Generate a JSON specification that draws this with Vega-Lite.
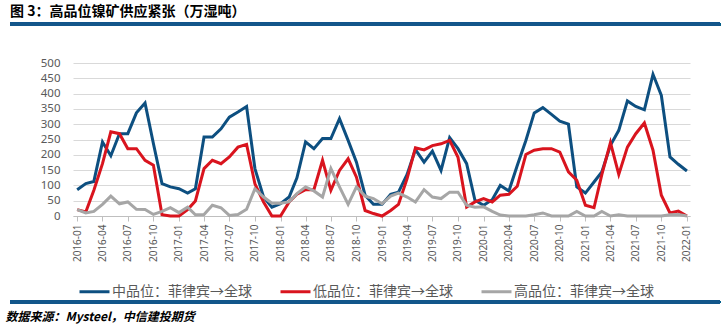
{
  "$schema": "https://vega.github.io/schema/vega-lite/v6.json",
  "autosize": {"type": "none"},
  "width": 617,
  "height": 153,
  "padding": {"left": 73, "top": 63, "right": 35, "bottom": 114},
  "background": "white",
  "config": {
    "view": {"stroke": null},
    "font": "Noto Sans CJK SC",
    "axisY": {"tickCount": 10, "labelOverlap": false, "labelFlush": false, "domain": false, "ticks": false, "labelPadding": 13, "labelFont": "Noto Sans", "labelFontSize": 11.5, "labelColor": "#595959", "gridColor": "#d9d9d9", "gridWidth": 1}
  },
  "title": {
    "text": "图 3：高品位镍矿供应紧张（万湿吨）",
    "anchor": "start",
    "frame": "group",
    "dx": -63,
    "offset": 4,
    "font": "Noto Sans CJK SC",
    "fontSize": 14,
    "fontWeight": "bold",
    "color": "#000000"
  },
  "data": {
    "values": [
      {"d":"2016-01-01","mid":86,"low":21,"high":21},
      {"d":"2016-02-01","mid":106,"low":13,"high":10},
      {"d":"2016-03-01","mid":113,"low":84,"high":15},
      {"d":"2016-04-01","mid":242,"low":171,"high":38},
      {"d":"2016-05-01","mid":197,"low":275,"high":65},
      {"d":"2016-06-01","mid":269,"low":269,"high":40},
      {"d":"2016-07-01","mid":269,"low":220,"high":46},
      {"d":"2016-08-01","mid":337,"low":220,"high":22},
      {"d":"2016-09-01","mid":369,"low":182,"high":21},
      {"d":"2016-10-01","mid":237,"low":166,"high":5},
      {"d":"2016-11-01","mid":106,"low":4,"high":15},
      {"d":"2016-12-01","mid":95,"low":0,"high":27},
      {"d":"2017-01-01","mid":89,"low":0,"high":11},
      {"d":"2017-02-01","mid":75,"low":21,"high":29},
      {"d":"2017-03-01","mid":89,"low":49,"high":4},
      {"d":"2017-04-01","mid":258,"low":155,"high":5},
      {"d":"2017-05-01","mid":258,"low":182,"high":35},
      {"d":"2017-06-01","mid":285,"low":171,"high":27},
      {"d":"2017-07-01","mid":323,"low":193,"high":2},
      {"d":"2017-08-01","mid":340,"low":225,"high":5},
      {"d":"2017-09-01","mid":358,"low":234,"high":22},
      {"d":"2017-10-01","mid":155,"low":105,"high":89},
      {"d":"2017-11-01","mid":62,"low":46,"high":62},
      {"d":"2017-12-01","mid":29,"low":0,"high":42},
      {"d":"2018-01-01","mid":40,"low":0,"high":42},
      {"d":"2018-02-01","mid":62,"low":46,"high":46},
      {"d":"2018-03-01","mid":125,"low":71,"high":73},
      {"d":"2018-04-01","mid":242,"low":86,"high":95},
      {"d":"2018-05-01","mid":220,"low":86,"high":82},
      {"d":"2018-06-01","mid":253,"low":182,"high":62},
      {"d":"2018-07-01","mid":253,"low":84,"high":155},
      {"d":"2018-08-01","mid":318,"low":149,"high":95},
      {"d":"2018-09-01","mid":247,"low":187,"high":38},
      {"d":"2018-10-01","mid":176,"low":127,"high":95},
      {"d":"2018-11-01","mid":68,"low":18,"high":65},
      {"d":"2018-12-01","mid":38,"low":8,"high":57},
      {"d":"2019-01-01","mid":38,"low":0,"high":40},
      {"d":"2019-02-01","mid":71,"low":18,"high":65},
      {"d":"2019-03-01","mid":78,"low":38,"high":75},
      {"d":"2019-04-01","mid":136,"low":122,"high":62},
      {"d":"2019-05-01","mid":217,"low":223,"high":46},
      {"d":"2019-06-01","mid":176,"low":216,"high":86},
      {"d":"2019-07-01","mid":212,"low":230,"high":62},
      {"d":"2019-08-01","mid":149,"low":236,"high":57},
      {"d":"2019-09-01","mid":256,"low":247,"high":78},
      {"d":"2019-10-01","mid":220,"low":192,"high":78},
      {"d":"2019-11-01","mid":171,"low":29,"high":35},
      {"d":"2019-12-01","mid":51,"low":46,"high":29},
      {"d":"2020-01-01","mid":35,"low":57,"high":30},
      {"d":"2020-02-01","mid":53,"low":46,"high":15},
      {"d":"2020-03-01","mid":100,"low":68,"high":3},
      {"d":"2020-04-01","mid":82,"low":71,"high":0},
      {"d":"2020-05-01","mid":165,"low":97,"high":0},
      {"d":"2020-06-01","mid":247,"low":201,"high":0},
      {"d":"2020-07-01","mid":337,"low":215,"high":4},
      {"d":"2020-08-01","mid":354,"low":220,"high":10},
      {"d":"2020-09-01","mid":332,"low":220,"high":0},
      {"d":"2020-10-01","mid":310,"low":209,"high":0},
      {"d":"2020-11-01","mid":300,"low":144,"high":0},
      {"d":"2020-12-01","mid":95,"low":117,"high":15},
      {"d":"2021-01-01","mid":75,"low":35,"high":0},
      {"d":"2021-02-01","mid":111,"low":27,"high":0},
      {"d":"2021-03-01","mid":144,"low":135,"high":15},
      {"d":"2021-04-01","mid":231,"low":240,"high":0},
      {"d":"2021-05-01","mid":280,"low":136,"high":4},
      {"d":"2021-06-01","mid":376,"low":225,"high":0},
      {"d":"2021-07-01","mid":358,"low":269,"high":0},
      {"d":"2021-08-01","mid":347,"low":304,"high":0},
      {"d":"2021-09-01","mid":463,"low":215,"high":0},
      {"d":"2021-10-01","mid":394,"low":68,"high":0},
      {"d":"2021-11-01","mid":193,"low":10,"high":4},
      {"d":"2021-12-01","mid":169,"low":16,"high":5},
      {"d":"2022-01-01","mid":147,"low":0,"high":0}
    ]
  },
  "layer": [
    {
      "transform": [{"fold": ["mid", "low", "high"], "as": ["series", "value"]}],
      "mark": {"type": "line", "strokeWidth": 3, "clip": false},
      "encoding": {
        "x": {
          "field": "d",
          "type": "temporal",
          "scale": {"type": "utc", "domain": [{"year": 2015, "month": 12, "date": 17, "utc": true}, {"year": 2022, "month": 1, "date": 12, "utc": true}], "nice": false},
          "axis": {
            "tickCount": {"interval": "month", "step": 3},
            "format": "%Y-%m",
            "labelAngle": -90,
            "labelAlign": "right",
            "labelBaseline": "middle",
            "labelFont": "Noto Sans",
            "labelFontSize": 10,
            "labelColor": "#595959",
            "labelPadding": 3,
            "labelOverlap": false,
            "labelFlush": false,
            "grid": false,
            "domainColor": "#bfbfbf",
            "domainWidth": 1,
            "tickColor": "#bfbfbf",
            "tickSize": 5,
            "title": "数据来源：Mysteel，中信建投期货",
            "titleX": -68,
            "titleY": 100,
            "titleAlign": "left",
            "titleAnchor": "start",
            "titleBaseline": "middle",
            "titleFont": "Noto Sans CJK SC",
            "titleFontSize": 12,
            "titleFontStyle": "italic",
            "titleFontWeight": "bold",
            "titleColor": "#000000"
          }
        },
        "y": {
          "field": "value",
          "type": "quantitative",
          "scale": {"domain": [0, 500], "nice": false, "zero": true},
          "axis": {"title": null, "tickCount": 10}
        },
        "color": {
          "field": "series",
          "type": "nominal",
          "scale": {"domain": ["mid", "low", "high"], "range": ["#0d4f80", "#d9141e", "#a6a6a6"]},
          "legend": {
            "title": null,
            "orient": "none",
            "direction": "horizontal",
            "legendX": 5,
            "legendY": 212,
            "symbolType": "stroke",
            "symbolSize": 900,
            "symbolStrokeWidth": 3,
            "labelExpr": "{'mid': '中品位：菲律宾→全球', 'low': '低品位：菲律宾→全球', 'high': '高品位：菲律宾→全球'}[datum.label]",
            "labelFont": "Noto Sans CJK SC",
            "labelFontSize": 14,
            "labelColor": "#595959",
            "labelOffset": 1,
            "columnPadding": 22,
            "labelLimit": 300
          }
        }
      }
    },
    {
      "mark": {"type": "rule", "color": "#13568a", "strokeWidth": 3, "clip": false},
      "encoding": {
        "x": {"datum": {"year": 2015, "month": 5, "date": 5, "utc": true}, "type": "temporal"},
        "x2": {"datum": {"year": 2022, "month": 4, "date": 30, "utc": true}},
        "y": {"datum": -281, "type": "quantitative"}
      }
    },
    {
      "mark": {"type": "rule", "color": "#13568a", "strokeWidth": 3, "clip": false, "zindex": 5},
      "encoding": {
        "x": {"datum": {"year": 2015, "month": 5, "date": 5, "utc": true}, "type": "temporal"},
        "x2": {"datum": {"year": 2022, "month": 4, "date": 30, "utc": true}},
        "y": {"datum": 626.5, "type": "quantitative"}
      }
    }
  ]
}
